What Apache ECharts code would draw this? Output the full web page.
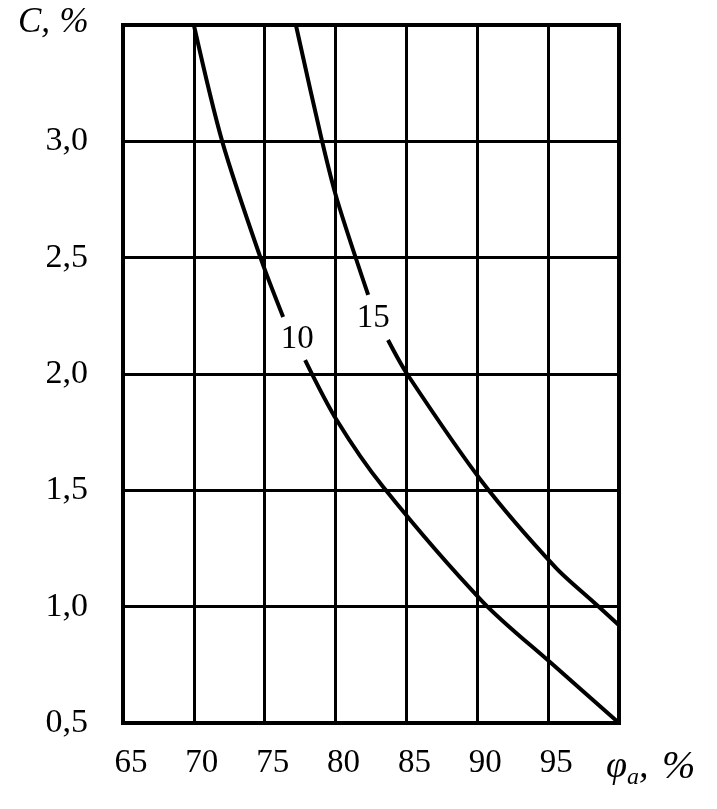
<!DOCTYPE html>
<html>
<head>
<meta charset="utf-8">
<script src="https://cdn.jsdelivr.net/npm/echarts@6/dist/echarts.min.js"></script>
<style>html,body{margin:0;padding:0;background:#fff}#c{width:717px;height:809px}</style>
</head>
<body>
<div id="c"></div>
<script>
// Tick values and labels
const xTicks = [65, 70, 75, 80, 85, 90, 95, 100];
const xTickLabels = ['65', '70', '75', '80', '85', '90', '95', ''];
const yTicks = [0.5, 1.0, 1.5, 2.0, 2.5, 3.0, 3.5];
const yTickLabels = ['0,5', '1,0', '1,5', '2,0', '2,5', '3,0', ''];

// Curve names and label anchor points
const curveNames = ['10', '15'];
const curveLabelPoints = [[77.3, 2.15], [82.65, 2.24]];

// Curve "10" (split around its label)
const curve10Upper = [[70.0, 3.5], [72.0, 3.0], [74.7, 2.5], [76.3, 2.245]];
const curve10Lower = [[77.85, 2.06], [80.1, 1.80], [83.35, 1.515], [90.4, 1.02], [95.35, 0.75], [100, 0.5]];

// Curve "15" (split around its label)
const curve15Upper = [[77.2, 3.5], [79.05, 3.0], [80.1, 2.75], [82.3, 2.34]];
const curve15Lower = [[83.7, 2.146], [85.05, 2.0], [90.35, 1.536], [95.5, 1.17], [98.2, 1.02], [100, 0.92]];

const serif = 'Liberation Serif';
const chart = echarts.init(document.getElementById('c'));
const lineStyle = { color: '#000', width: 4 };
function curve(data) {
  return { type: 'line', data: data, smooth: 0.3, showSymbol: false, symbol: 'none', lineStyle: lineStyle, z: 5, animation: false };
}
chart.setOption({
  animation: false,
  grid: { left: 123, right: 98, top: 25, bottom: 86, show: true, borderColor: '#000', borderWidth: 4 },
  xAxis: {
    type: 'value', min: 65, max: 100, interval: 5,
    axisLine: { show: true, lineStyle: { color: '#000', width: 4 } },
    axisTick: { show: false },
    splitLine: { show: true, lineStyle: { color: '#000', width: 3 } },
    axisLabel: {
      color: '#000', fontFamily: serif, fontSize: 33, margin: 24, padding: [0, 0, 0, 16],
      formatter: v => { const i = xTicks.indexOf(v); return i >= 0 ? xTickLabels[i] : ''; }
    }
  },
  yAxis: {
    type: 'value', min: 0.5, max: 3.5, interval: 0.5,
    axisLine: { show: true, lineStyle: { color: '#000', width: 4 } },
    axisTick: { show: false },
    splitLine: { show: true, lineStyle: { color: '#000', width: 3 } },
    axisLabel: {
      color: '#000', fontFamily: serif, fontSize: 34, margin: 35,
      formatter: v => { const i = yTicks.findIndex(t => Math.abs(t - v) < 1e-6); return i >= 0 ? yTickLabels[i] : ''; }
    }
  },
  graphic: [
    { type: 'text', left: 18, top: 5, style: {
        text: '{c|C,} {q|%}', fill: '#000',
        rich: {
          c: { fontFamily: serif, fontStyle: 'italic', fontSize: 35 },
          q: { fontFamily: serif, fontStyle: 'italic', fontSize: 35, padding: [0, 0, 0, 6] }
        } } },
    { type: 'text', x: 606, y: 767, style: {
        text: '{p|φ}{s|a}{p|, }{q|%}', verticalAlign: 'middle', fill: '#000',
        rich: {
          p: { fontFamily: serif, fontStyle: 'italic', fontSize: 38, lineHeight: 46, verticalAlign: 'middle' },
          q: { fontFamily: serif, fontStyle: 'italic', fontSize: 40, lineHeight: 46, verticalAlign: 'middle', padding: [0, 0, 0, 4] },
          s: { fontFamily: serif, fontStyle: 'italic', fontSize: 24, lineHeight: 20, verticalAlign: 'bottom' }
        } } }
  ],
  series: [
    curve(curve10Upper), curve(curve10Lower), curve(curve15Upper), curve(curve15Lower),
    {
      type: 'scatter', symbolSize: 0, z: 6,
      itemStyle: { opacity: 1 },
      data: curveLabelPoints.map((p, i) => ({ value: p, name: curveNames[i] })),
      label: { show: true, position: 'inside', opacity: 1, formatter: p => p.name, color: '#000', fontFamily: serif, fontSize: 33 }
    }
  ]
});
</script>
</body>
</html>
